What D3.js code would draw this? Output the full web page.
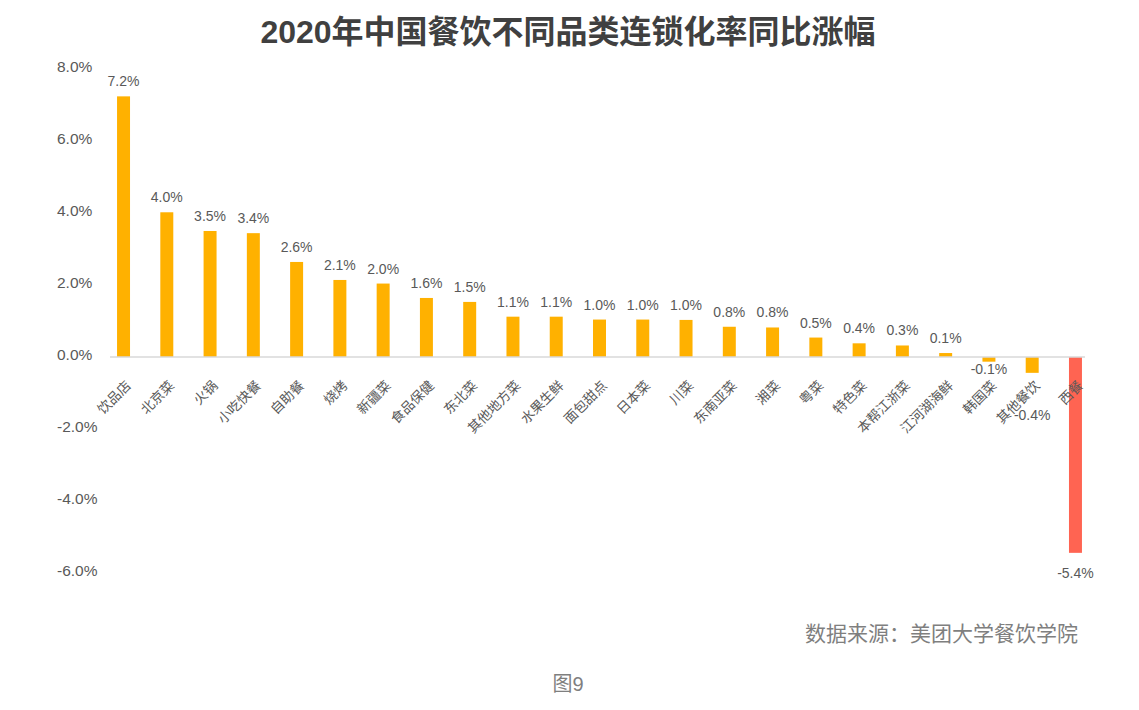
<!DOCTYPE html>
<html><head><meta charset="utf-8">
<script src="https://cdn.jsdelivr.net/npm/d3@7/dist/d3.min.js"></script>
<style>
html,body{margin:0;padding:0;background:#fff;}
svg{display:block;font-family:"Liberation Sans","Noto Sans CJK SC",sans-serif;}
</style></head>
<body>
<svg id="chart" width="1139" height="710"></svg>
<script>
const categories = ["饮品店","北京菜","火锅","小吃快餐","自助餐","烧烤","新疆菜","食品保健","东北菜","其他地方菜","水果生鲜","面包甜点","日本菜","川菜","东南亚菜","湘菜","粤菜","特色菜","本帮江浙菜","江河湖海鲜","韩国菜","其他餐饮","西餐"];
const values = [7.24,4.02,3.50,3.44,2.64,2.14,2.04,1.64,1.53,1.12,1.12,1.04,1.04,1.03,0.84,0.82,0.54,0.38,0.32,0.11,-0.13,-0.44,-5.44];
const yTicks = [8,6,4,2,0,-2,-4,-6];
const title = "2020年中国餐饮不同品类连锁化率同比涨幅";
const source = "数据来源：美团大学餐饮学院";
const figLabel = "图9";
// layout only: extra downward offset for negative value labels
const negLabelOffset = {"韩国菜": 2, "其他餐饮": 37, "西餐": 15};

const svg = d3.select("#chart");
const x = d3.scaleBand().domain(categories).range([101.9, 1097.1]).paddingInner(0.7).paddingOuter(0.35);
const y = d3.scaleLinear().domain([-6, 8]).range([573, 69]);
const fmt = v => v.toFixed(1) + "%";
const textColor = "#595959";

// title
svg.append("text").attr("x", 568).attr("y", 43).attr("text-anchor", "middle")
  .attr("font-size", 32).attr("font-weight", "bold").attr("fill", "#404040").text(title);

// y-axis labels
svg.append("g").selectAll("text").data(yTicks).join("text")
  .attr("x", 57).attr("y", d => y(d) - 2).attr("dy", "0.35em")
  .attr("font-size", 15.5).attr("fill", textColor).text(d => d.toFixed(1) + "%");

// bars
svg.append("g").selectAll("rect").data(values).join("rect")
  .attr("x", (d, i) => x(categories[i]))
  .attr("width", x.bandwidth())
  .attr("y", d => y(Math.max(0, d)))
  .attr("height", d => Math.abs(y(d) - y(0)))
  .attr("fill", (d, i) => d < -1 ? "#ff6452" : "#ffb100");

// zero line
svg.append("line").attr("x1", 110).attr("x2", 1085).attr("y1", y(0)).attr("y2", y(0))
  .attr("stroke", "#d9d9d9").attr("stroke-width", 1.5);

// value labels
svg.append("g").selectAll("text").data(values).join("text")
  .attr("x", (d, i) => x(categories[i]) + x.bandwidth() / 2)
  .attr("y", (d, i) => d >= 0 ? y(d) - 10 : y(d) + 10 + (negLabelOffset[categories[i]] || 0))
  .attr("text-anchor", "middle").attr("font-size", 14).attr("fill", textColor)
  .text(d => fmt(d));

// category labels
svg.append("g").selectAll("text").data(categories).join("text")
  .attr("transform", d => `translate(${x(d) + x.bandwidth() / 2 + 5},${y(0) + 26}) rotate(-45)`)
  .attr("text-anchor", "end").attr("dy", "0.35em")
  .attr("font-size", 13.5).attr("fill", textColor).text(d => d);

// source
svg.append("text").attr("x", 1078).attr("y", 641).attr("text-anchor", "end")
  .attr("font-size", 21).attr("fill", "#7f7f7f").text(source);

// figure label
svg.append("text").attr("x", 568).attr("y", 691).attr("text-anchor", "middle")
  .attr("font-size", 20).attr("fill", "#7f7f7f").text(figLabel);
</script>
</body></html>
